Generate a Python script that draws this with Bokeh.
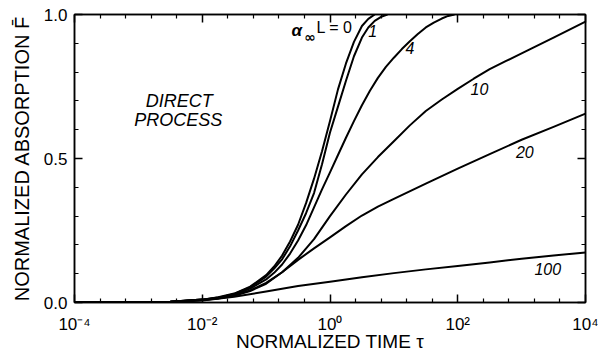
from bokeh.plotting import figure
from bokeh.models import (Range1d, FixedTicker, LinearAxis, LogAxis, ColumnDataSource)
from bokeh.core.properties import value
from bokeh.embed import file_html
from bokeh.resources import INLINE

# ---- data (log10 tau, normalized absorption F) ----
lt_0 = [-4, -3, -2.5, -2, -1.75, -1.5, -1.25, -1, -0.875, -0.75, -0.625, -0.5, -0.375, -0.25, -0.125, 0, 0.125, 0.25, 0.375, 0.5, 0.6, 0.7]
F_0 = [0, 0.001, 0.003, 0.01, 0.018, 0.031, 0.055, 0.095, 0.125, 0.163, 0.212, 0.27, 0.345, 0.43, 0.525, 0.63, 0.74, 0.83, 0.905, 0.96, 0.985, 1.0]

lt_1 = [-4, -3, -2.5, -2, -1.75, -1.5, -1.25, -1, -0.875, -0.75, -0.625, -0.5, -0.375, -0.25, -0.125, 0, 0.125, 0.25, 0.375, 0.5, 0.6, 0.7, 0.8, 0.9]
F_1 = [0, 0.001, 0.003, 0.01, 0.017, 0.03, 0.052, 0.09, 0.118, 0.15, 0.195, 0.25, 0.31, 0.38, 0.48, 0.59, 0.68, 0.77, 0.855, 0.92, 0.955, 0.978, 0.992, 1.0]

lt_4 = [-4, -3, -2.5, -2, -1.75, -1.5, -1.25, -1, -0.875, -0.75, -0.625, -0.5, -0.375, -0.25, -0.125, 0, 0.125, 0.25, 0.375, 0.5, 0.625, 0.75, 0.875, 1.0, 1.125, 1.25, 1.375, 1.5, 1.625, 1.75, 1.85, 1.95]
F_4 = [0, 0.001, 0.003, 0.01, 0.016, 0.028, 0.048, 0.08, 0.103, 0.132, 0.17, 0.215, 0.268, 0.33, 0.393, 0.452, 0.512, 0.572, 0.63, 0.685, 0.735, 0.78, 0.818, 0.85, 0.88, 0.907, 0.932, 0.955, 0.972, 0.986, 0.995, 1.0]

lt_10 = [-4, -3, -2.5, -2, -1.75, -1.5, -1.25, -1, -0.75, -0.5, -0.25, 0, 0.25, 0.5, 0.75, 1.0, 1.25, 1.5, 1.75, 2.0, 2.25, 2.5, 2.75, 3.0, 3.5, 4.0]
F_10 = [0, 0.001, 0.003, 0.009, 0.015, 0.025, 0.042, 0.068, 0.105, 0.155, 0.22, 0.3, 0.375, 0.445, 0.505, 0.56, 0.615, 0.665, 0.705, 0.742, 0.777, 0.81, 0.838, 0.865, 0.92, 0.975]

lt_20 = [-4, -3, -2.5, -2, -1.75, -1.5, -1.25, -1, -0.75, -0.5, -0.25, 0, 0.25, 0.5, 0.75, 1.0, 1.5, 2.0, 2.5, 3.0, 3.5, 4.0]
F_20 = [0, 0.001, 0.003, 0.009, 0.014, 0.023, 0.04, 0.065, 0.105, 0.148, 0.188, 0.226, 0.265, 0.302, 0.333, 0.36, 0.413, 0.465, 0.515, 0.565, 0.61, 0.656]

lt_100 = [-4, -3, -2.5, -2, -1.5, -1, -0.5, 0, 0.5, 1, 1.5, 2, 2.5, 3, 3.5, 4]
F_100 = [0, 0.0005, 0.002, 0.007, 0.02, 0.038, 0.057, 0.072, 0.088, 0.102, 0.115, 0.127, 0.139, 0.152, 0.163, 0.174]

curves = [(lt_0, F_0), (lt_1, F_1), (lt_4, F_4), (lt_10, F_10), (lt_20, F_20), (lt_100, F_100)]

# curve labels (text, log10 tau, F)
curve_label_text = ["1", "4", "10", "20", "100"]
curve_label_lt = [0.67, 1.25, 2.34, 3.05, 3.41]
curve_label_F = [0.941, 0.885, 0.743, 0.524, 0.115]

# ticks
x_ticks = [1e-4, 1e-2, 1e0, 1e2, 1e4]
x_tick_labels = ["10\u207b\u2074", "10\u207b\u00b2", "10\u2070", "10\u00b2", "10\u2074"]
x_minor_exp = [-3.6, -3.2, -2.8, -2.4, -1.6, -1.2, -0.8, -0.4, 0.4, 0.8, 1.2, 1.6, 2.4, 2.8, 3.2, 3.6]
y_ticks = [0.0, 0.5, 1.0]
y_tick_labels = ["0.0", "0.5", "1.0"]
y_minor = [0.1, 0.2, 0.3, 0.4, 0.6, 0.7, 0.8, 0.9]

FONT = "Liberation Sans"

p = figure(width=598, height=354, x_axis_type="log",
           x_range=Range1d(1e-4, 1e4), y_range=Range1d(0, 1),
           output_backend="svg", toolbar_location=None,
           min_border_left=74, min_border_right=13, min_border_top=14, min_border_bottom=52)
p.xgrid.visible = False
p.ygrid.visible = False
p.outline_line_color = "black"
p.outline_line_width = 1.5
p.background_fill_color = "white"
p.border_fill_color = "white"


def style_axis(ax, show_labels):
    ax.axis_line_color = "black"
    ax.axis_line_width = 1.5
    ax.major_tick_in = 8
    ax.major_tick_out = 0
    ax.minor_tick_in = 4
    ax.minor_tick_out = 0
    ax.major_tick_line_width = 1.5
    ax.minor_tick_line_width = 1.2
    ax.major_tick_line_color = "black"
    ax.minor_tick_line_color = "black"
    if show_labels:
        ax.major_label_text_font = FONT
        ax.major_label_text_font_size = "17px"
        ax.major_label_text_color = "black"
    else:
        ax.major_label_text_font_size = "1px"
        ax.major_label_text_color = None
        ax.major_label_standoff = 0


xa = p.xaxis[0]
xa.ticker = FixedTicker(ticks=x_ticks, minor_ticks=[10 ** e for e in x_minor_exp])
xa.major_label_overrides = dict(zip(x_ticks, x_tick_labels))
style_axis(xa, True)
xa.major_label_standoff = 12
xa.axis_label = "NORMALIZED TIME \u03c4"
xa.axis_label_text_font = FONT
xa.axis_label_text_font_size = "19px"
xa.axis_label_text_font_style = "normal"
xa.axis_label_text_color = "black"
xa.axis_label_standoff = -6

ya = p.yaxis[0]
ya.ticker = FixedTicker(ticks=y_ticks, minor_ticks=y_minor)
ya.major_label_overrides = dict(zip(y_ticks, y_tick_labels))
style_axis(ya, True)
ya.major_label_standoff = 7
ya.axis_label = "NORMALIZED ABSORPTION F\u0304"
ya.axis_label_text_font = FONT
ya.axis_label_text_font_size = "20px"
ya.axis_label_text_font_style = "normal"
ya.axis_label_text_color = "black"
ya.axis_label_standoff = 8

top = LogAxis(ticker=FixedTicker(ticks=x_ticks, minor_ticks=[10 ** e for e in x_minor_exp]))
style_axis(top, False)
p.add_layout(top, "above")
right = LinearAxis(ticker=FixedTicker(ticks=y_ticks, minor_ticks=y_minor))
style_axis(right, False)
p.add_layout(right, "right")

for lt, F in curves:
    p.line([10 ** v for v in lt], F, line_color="black", line_width=2, line_join="round")

src = ColumnDataSource(dict(x=[10 ** v for v in curve_label_lt], y=curve_label_F, t=curve_label_text))
p.text(x="x", y="y", text="t", source=src, text_font=value(FONT), text_font_style="italic",
       text_font_size="16px", text_align="center", text_baseline="middle", text_color="black")

# alpha_inf L = 0 label
p.text(x=[10 ** -0.52], y=[0.944], text=["\u03b1"], text_font=value(FONT), text_font_style="bold italic",
       text_font_size="17px", text_align="center", text_baseline="middle", text_color="black")
p.text(x=[10 ** -0.31], y=[0.922], text=["\u221e"], text_font=value("DejaVu Sans"), text_font_style="bold",
       text_font_size="14px", text_align="center", text_baseline="middle", text_color="black")
p.text(x=[10 ** 0.07], y=[0.955], text=["L = 0"], text_font=value(FONT), text_font_style="normal",
       text_font_size="16px", text_align="center", text_baseline="middle", text_color="black")

# DIRECT PROCESS
p.text(x=[10 ** -2.36, 10 ** -2.375], y=[0.701, 0.632], text=["DIRECT", "PROCESS"], text_font=value(FONT),
       text_font_style="italic", text_font_size="18px", text_align="center", text_baseline="middle",
       text_color="black")

open("out.html", "w").write(file_html(p, INLINE))
